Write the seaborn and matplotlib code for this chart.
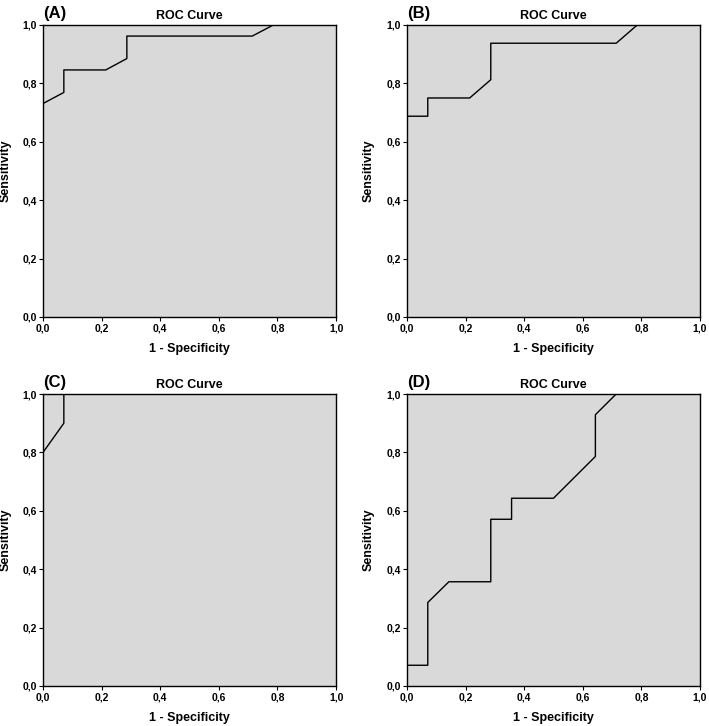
import matplotlib
matplotlib.use("Agg")
import matplotlib.pyplot as plt
import seaborn as sns
import pandas as pd

# ROC curve points (1 - specificity, sensitivity) for each panel
a_fpr = [0.0, 0.0, 0.071, 0.071, 0.214, 0.286, 0.286, 0.714, 0.786, 1.0]
a_tpr = [0.0, 0.731, 0.769, 0.846, 0.846, 0.885, 0.962, 0.962, 1.0, 1.0]

b_fpr = [0.0, 0.0, 0.071, 0.071, 0.214, 0.286, 0.286, 0.714, 0.786, 1.0]
b_tpr = [0.0, 0.6875, 0.6875, 0.75, 0.75, 0.8125, 0.9375, 0.9375, 1.0, 1.0]

c_fpr = [0.0, 0.0, 0.071, 0.071, 1.0]
c_tpr = [0.0, 0.8, 0.9, 1.0, 1.0]

d_fpr = [0.0, 0.0, 0.071, 0.071, 0.143, 0.286, 0.286, 0.357, 0.357, 0.5, 0.643, 0.643, 0.714, 1.0]
d_tpr = [0.0, 0.071, 0.071, 0.286, 0.357, 0.357, 0.571, 0.571, 0.643, 0.643, 0.786, 0.929, 1.0, 1.0]

panel_labels = ["(A)", "(B)", "(C)", "(D)"]
tick_values = [0.0, 0.2, 0.4, 0.6, 0.8, 1.0]
tick_labels = ["0,0", "0,2", "0,4", "0,6", "0,8", "1,0"]

curves = [(a_fpr, a_tpr), (b_fpr, b_tpr), (c_fpr, c_tpr), (d_fpr, d_tpr)]

sns.set_style("ticks")
plt.rcParams["font.family"] = ["Liberation Sans", "DejaVu Sans"]
plt.rcParams["text.color"] = "black"
plt.rcParams["axes.labelcolor"] = "black"
plt.rcParams["xtick.color"] = "black"
plt.rcParams["ytick.color"] = "black"

fig = plt.figure(figsize=(7.09, 7.26), dpi=100)

# axes boxes in figure fraction (left, bottom, width, height)
lefts = [0.0607, 0.574]
bottoms = [0.5634, 0.0551]
w = 0.4133
h = 0.4022

for i, (fpr, tpr) in enumerate(curves):
    ax = fig.add_axes([lefts[i % 2], bottoms[i // 2], w, h])
    ax.set_facecolor("#d9d9d9")
    df = pd.DataFrame({"fpr": fpr, "tpr": tpr})
    sns.lineplot(data=df, x="fpr", y="tpr", sort=False, estimator=None,
                 color="black", linewidth=1.0, ax=ax)
    ax.set_xlim(0, 1)
    ax.set_ylim(0, 1)
    ax.set_xticks(tick_values)
    ax.set_xticklabels(tick_labels, fontsize=7.5, fontweight="bold")
    ax.set_yticks(tick_values)
    ax.set_yticklabels(tick_labels, fontsize=7.5, fontweight="bold")
    ax.tick_params(length=3, width=0.8, pad=1.5, color="black", labelcolor="black")
    for s in ax.spines.values():
        s.set_visible(True)
        s.set_linewidth(1.0)
        s.set_color("black")
    ax.set_xlabel("1 - Specificity", fontsize=9, fontweight="bold", labelpad=7)
    ax.set_ylabel("Sensitivity", fontsize=9, fontweight="bold", labelpad=8)
    ax.set_title("ROC Curve", fontsize=9, fontweight="bold", pad=4)
    ax.text(0.0, 1.015, panel_labels[i], transform=ax.transAxes,
            fontsize=12, fontweight="bold", ha="left", va="bottom")

fig.savefig("out.png", dpi=100)
